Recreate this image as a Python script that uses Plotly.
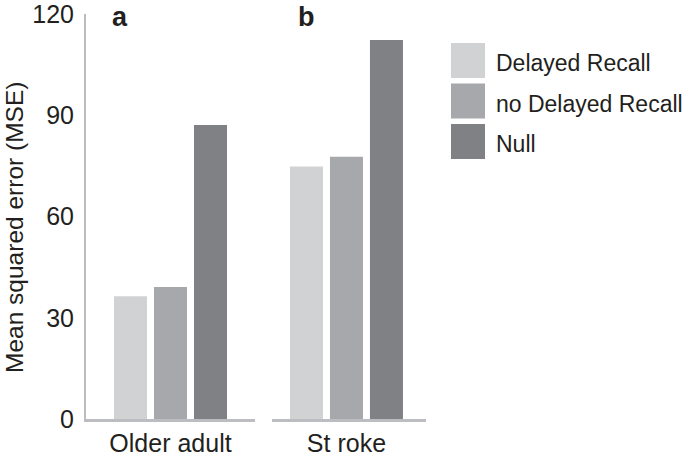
import plotly.graph_objects as go

# data
groups = ['Older adult', 'St roke']
series_names = ['Delayed Recall', 'no Delayed Recall', 'Null']
older_adult_mse = [36.4, 39.1, 87.1]
stroke_mse = [74.8, 77.7, 112.3]
y_ticks = [0, 30, 60, 90, 120]
panel_letters = ['a', 'b']
colors = ['#d1d2d4', '#a7a8ab', '#808184']

W, H = 685, 458
L, R, T, B = 86, 426, 14, 419  # plot area in px
AXIS_GREY = '#bcbdc0'
INK = '#231f20'
FONT = 'Liberation Sans, Arial, sans-serif'

def px_x(p):
	return (p - L) / (R - L)

def px_y(p):
	return (B - p) / (B - T)

fig = go.Figure()
for name, c, va, vb in zip(series_names, colors, older_adult_mse, stroke_mse):
	fig.add_trace(go.Bar(name=name, x=[groups[0]], y=[va], marker=dict(color=c, line_width=0),
		xaxis='x', yaxis='y', showlegend=False))
	fig.add_trace(go.Bar(name=name, x=[groups[1]], y=[vb], marker=dict(color=c, line_width=0),
		xaxis='x2', yaxis='y', showlegend=False))

split_a = px_x(255)
split_b = px_x(272)
span_b = (426 - 272) / (255 - 86) / 2  # keep bar width equal in both panels

fig.update_layout(
	width=W, height=H,
	margin=dict(l=L, r=W - R, t=T, b=H - B, pad=0),
	paper_bgcolor='white', plot_bgcolor='white',
	barmode='group', bargap=0.29, bargroupgap=0.175,
	font=dict(family=FONT, color=INK),
	xaxis=dict(domain=[0, split_a], range=[-0.5, 0.5], showline=True, linecolor=AXIS_GREY, linewidth=3,
		ticks='', tickfont=dict(size=25), showgrid=False, zeroline=False, automargin=False),
	xaxis2=dict(domain=[split_b, 1], range=[-span_b + 0.015, span_b + 0.015], showline=True, linecolor=AXIS_GREY,
		linewidth=3, ticks='', tickfont=dict(size=25), showgrid=False, zeroline=False, anchor='y',
		automargin=False),
	yaxis=dict(range=[0, 120], tickvals=y_ticks, showline=True, linecolor=AXIS_GREY, linewidth=2,
		ticks='outside', ticklen=5, tickcolor='rgba(0,0,0,0)', tickfont=dict(size=25),
		ticklabeloverflow='allow', showgrid=False, zeroline=False, automargin=False),
)

# y title
fig.add_annotation(text='Mean squared error (MSE)', xref='paper', yref='paper', x=px_x(15), y=px_y(228),
	xanchor='center', yanchor='middle', textangle=-90, showarrow=False, font=dict(size=24.5))

# panel letters
for letter, xp in zip(panel_letters, [110, 296]):
	fig.add_annotation(text='<b>%s</b>' % letter, xref='paper', yref='paper', x=px_x(xp), y=px_y(17),
		xanchor='left', yanchor='middle', showarrow=False, font=dict(size=27))

# legend, drawn by hand to get the big square swatches
for i, (name, c) in enumerate(zip(series_names, colors)):
	top = 43 + i * 40.5
	fig.add_shape(type='rect', xref='paper', yref='paper', x0=px_x(451), x1=px_x(485),
		y0=px_y(top), y1=px_y(top + 35), fillcolor=c, line_width=0)
	fig.add_annotation(text=name, xref='paper', yref='paper', x=px_x(494), y=px_y(top + 20),
		xanchor='left', yanchor='middle', showarrow=False, font=dict(size=23))

# the page body has a default 8px margin; drop it so the figure sits at 0,0
fig.write_html('out.html', config={'displayModeBar': False},
	post_script="document.body.style.margin='0';")
